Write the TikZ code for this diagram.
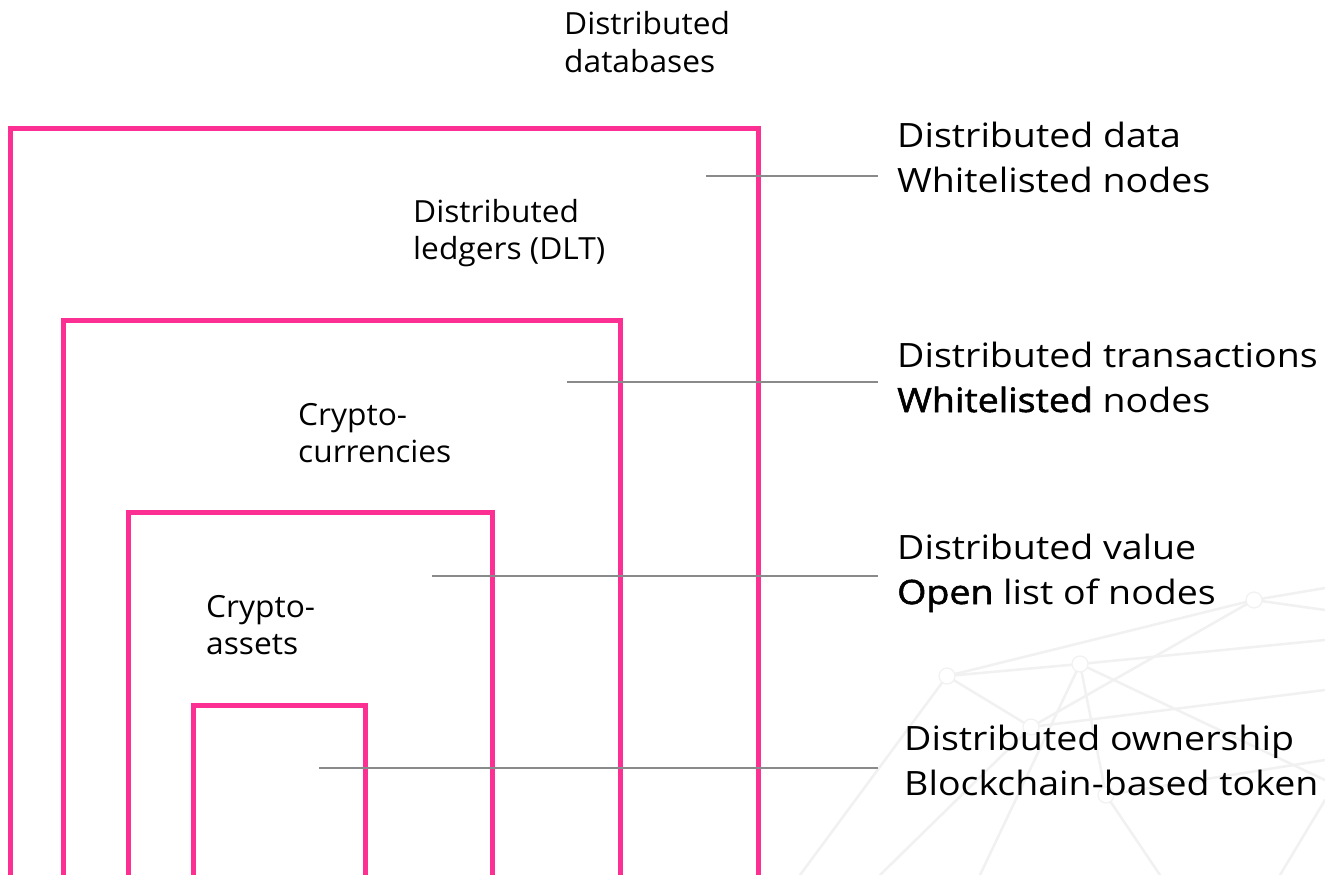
\documentclass[tikz,border=0pt]{standalone}
\usepackage{fontspec}
\setmainfont{Open Sans}
\newfontfamily\smallface[FakeStretch=1.04]{Open Sans}
\newfontfamily\bigface[FakeStretch=1.12]{Open Sans}
\newfontfamily\bigsemi[FakeStretch=1.12,FakeBold=1.6]{Open Sans}
\definecolor{rosebox}{RGB}{252,48,146}
\definecolor{leadgray}{RGB}{138,138,138}
\definecolor{netgray}{RGB}{241,241,241}
\begin{document}
\begin{tikzpicture}[x=1pt,y=-1pt,
  boxline/.style={draw=rosebox,line width=5pt},
  leader/.style={draw=leadgray,line width=1.6pt},
  netline/.style={draw=netgray,line width=2.5pt,line cap=round},
  netknot/.style={draw=netgray,fill=white,line width=1.2pt,circle,minimum size=16pt,inner sep=0pt},
  smalllabel/.style={anchor=base west,inner sep=0pt,font=\smallface\fontsize{30.5}{37.5}\selectfont},
  biglabel/.style={anchor=base west,inner sep=0pt,font=\bigface\fontsize{33.5}{45}\selectfont}]
\useasboundingbox (0,0) rectangle (1325,875);
\fill[white] (0,0) rectangle (1325,875);
% faint background network
\coordinate (nw1) at (1254,600);
\coordinate (nw2) at (1080,664);
\coordinate (nw3) at (947,676);
\coordinate (nw4) at (1031,727);
\coordinate (nw5) at (1106,795);
\draw[netline] (nw3) -- (nw1) -- (1325,588);
\draw[netline] (nw3) -- (nw2) -- (1325,640);
\draw[netline] (nw4) -- (nw1);
\draw[netline] (nw4) -- (1325,690);
\draw[netline] (nw3) -- (nw4);
\draw[netline] (nw2) -- (1325,780);
\draw[netline] (nw2) -- (nw5) -- (1160,875);
\draw[netline] (nw4) -- (880,875);
\draw[netline] (nw3) -- (800,875);
\draw[netline] (nw2) -- (980,875);
\draw[netline] (nw5) -- (1325,760);
\draw[netline] (1325,800) -- (1280,875);
\draw[netline] (nw1) -- (1325,610);
\foreach \k in {nw1,nw2,nw3,nw4,nw5} \node[netknot] at (\k) {};
% nested boxes
\draw[boxline] (10,877) -- (10,128) -- (758,128) -- (758,877) -- cycle;
\draw[boxline] (63,877) -- (63,320) -- (620,320) -- (620,877) -- cycle;
\draw[boxline] (128,877) -- (128,512) -- (492,512) -- (492,877) -- cycle;
\draw[boxline] (193,877) -- (193,705) -- (365,705) -- (365,877) -- cycle;
% inner labels
\node[smalllabel] (ldb) at (564,35) {\begin{tabular}[t]{@{}l@{}}Distributed\\databases\end{tabular}};
\node[smalllabel] (ldlt) at (413,222) {\begin{tabular}[t]{@{}l@{}}Distributed\\ledgers (DLT)\end{tabular}};
\node[smalllabel] (lcc) at (298,425) {\begin{tabular}[t]{@{}l@{}}Crypto-\\currencies\end{tabular}};
\node[smalllabel] (lca) at (206,617) {\begin{tabular}[t]{@{}l@{}}Crypto-\\assets\end{tabular}};
% right labels
\node[biglabel] (rdata) at (897,147) {\begin{tabular}[t]{@{}l@{}}Distributed data\\Whitelisted nodes\end{tabular}};
\node[biglabel] (rtrans) at (897,367) {\begin{tabular}[t]{@{}l@{}}Distributed transactions\\{\bigsemi Whitelisted} nodes\end{tabular}};
\node[biglabel] (rvalue) at (897,559) {\begin{tabular}[t]{@{}l@{}}Distributed value\\{\bigsemi Open} list of nodes\end{tabular}};
\node[biglabel] (rown) at (904,750) {\begin{tabular}[t]{@{}l@{}}Distributed ownership\\Blockchain-based token\end{tabular}};
% leader lines
\coordinate (a1) at (706,176);  \coordinate (b1) at (878,176);
\coordinate (a2) at (567,382);  \coordinate (b2) at (878,382);
\coordinate (a3) at (432,576);  \coordinate (b3) at (878,576);
\coordinate (a4) at (319,768);  \coordinate (b4) at (878,768);
\draw[leader] (a1) -- (b1);
\draw[leader] (a2) -- (b2);
\draw[leader] (a3) -- (b3);
\draw[leader] (a4) -- (b4);
\end{tikzpicture}
\end{document}
